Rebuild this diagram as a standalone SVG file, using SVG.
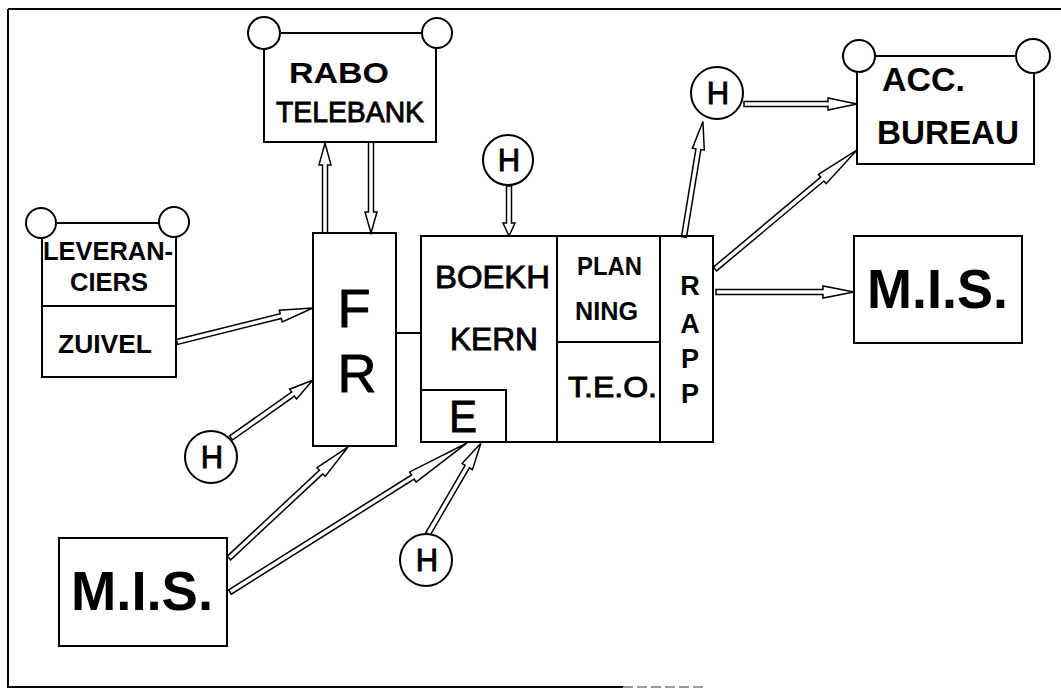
<svg xmlns="http://www.w3.org/2000/svg" width="1061" height="689" viewBox="0 0 1061 689">
<style>
.ln{fill:none;stroke:#000;stroke-width:2}
.cir{fill:#fff;stroke:#000;stroke-width:2}
.ar{fill:#fff;stroke:#000;stroke-width:1.5;stroke-linejoin:miter}
.t{font-family:"Liberation Sans",Arial,Helvetica,sans-serif;font-weight:bold;fill:#000}
.n{font-weight:normal;stroke:#000;stroke-width:0.9}
.m{text-anchor:middle}
</style>
<rect width="1061" height="689" fill="#fff"/>
<g id="frame">
<path class="ln" d="M8,9 H1061 M8,9 V687 H623"/>
<path d="M623,687 H705" stroke="#999" stroke-width="2" stroke-dasharray="10,4" fill="none"/>
</g>
<g id="connectors">
<path class="ln" d="M396,333 H421"/>
<path class="ar" transform="translate(325,233) rotate(-90)" d="M0,-2.5 H68 V-6 L90,0 L68,6 V2.5 H0 Z"/>
<path class="ar" transform="translate(371,142) rotate(90)" d="M0,-2.5 H70 V-6 L91,0 L70,6 V2.5 H0 Z"/>
<path class="ar" transform="translate(509,186) rotate(90)" d="M0,-2.5 H37 V-6 L50,0 L37,6 V2.5 H0 Z"/>
<path class="ar" transform="translate(177,342) rotate(-14.04)" d="M0,-2.5 H107 V-6 L140,0 L107,6 V2.5 H0 Z"/>
<path class="ar" transform="translate(231,438) rotate(-35.27)" d="M0,-2.5 H76 V-6 L100,0 L76,6 V2.5 H0 Z"/>
<path class="ar" transform="translate(229,558) rotate(-43.01)" d="M0,-2.5 H126 V-6 L163,0 L126,6 V2.5 H0 Z"/>
<path class="ar" transform="translate(230,592) rotate(-32.16)" d="M0,-2.5 H216 V-6 L280,0 L216,6 V2.5 H0 Z"/>
<path class="ar" transform="translate(428,534) rotate(-59.78)" d="M0,-2.5 H78 V-6 L105,0 L78,6 V2.5 H0 Z"/>
<path class="ar" transform="translate(684,237) rotate(-80.70)" d="M0,-2.5 H89 V-6 L117,0 L89,6 V2.5 H0 Z"/>
<path class="ar" transform="translate(744,104)" d="M0,-2.5 H84 V-6 L113,0 L84,6 V2.5 H0 Z"/>
<path class="ar" transform="translate(715,269) rotate(-39.97)" d="M0,-2.5 H140 V-6 L185,0 L140,6 V2.5 H0 Z"/>
<path class="ar" transform="translate(716,292)" d="M0,-2.5 H107 V-6 L138,0 L107,6 V2.5 H0 Z"/>
</g>
<g id="rabo">
<path class="ln" d="M264,33 H437 M264,33 V142 H436 V33"/>
<circle class="cir" cx="264" cy="33" r="16"/>
<circle class="cir" cx="437" cy="33" r="15"/>
<text class="t m" x="339" y="83" font-size="30" textLength="100" lengthAdjust="spacingAndGlyphs">RABO</text>
<text class="t n m" x="350" y="122" font-size="29" textLength="148" lengthAdjust="spacingAndGlyphs">TELEBANK</text>
</g>
<g id="leveranciers">
<path class="ln" d="M41,223 H174 M42,223 V377 H176 V223 M42,306 H176"/>
<circle class="cir" cx="41" cy="223" r="15"/>
<circle class="cir" cx="174" cy="222" r="15"/>
<text class="t" x="43" y="260" font-size="26" textLength="130" lengthAdjust="spacingAndGlyphs">LEVERAN-</text>
<text class="t m" x="109" y="291" font-size="26" textLength="78" lengthAdjust="spacingAndGlyphs">CIERS</text>
<text class="t m" x="105" y="353" font-size="25" textLength="94" lengthAdjust="spacingAndGlyphs">ZUIVEL</text>
</g>
<g id="fr">
<rect class="ln" x="313" y="233" width="83" height="213"/>
<text class="t n m" x="354" y="327" font-size="54">F</text>
<text class="t n m" x="357" y="392" font-size="54">R</text>
</g>
<g id="boekh">
<rect class="ln" x="421" y="236" width="292" height="206"/>
<path class="ln" d="M557,236 V442 M660,236 V442 M557,342 H660 M421,390 H506 V442"/>
<text class="t n" x="435" y="288" font-size="31" textLength="115" lengthAdjust="spacingAndGlyphs">BOEKH</text>
<text class="t n" x="450" y="350" font-size="31" textLength="88" lengthAdjust="spacingAndGlyphs">KERN</text>
<text class="t" x="577" y="275" font-size="25" textLength="65" lengthAdjust="spacingAndGlyphs">PLAN</text>
<text class="t" x="575" y="320" font-size="25" textLength="63" lengthAdjust="spacingAndGlyphs">NING</text>
<text class="t n" x="568" y="397" font-size="29" textLength="89" lengthAdjust="spacingAndGlyphs">T.E.O.</text>
<text class="t n m" x="463" y="432" font-size="45" textLength="28" lengthAdjust="spacingAndGlyphs">E</text>
<text class="t m" x="690" y="295" font-size="27">R</text>
<text class="t m" x="690" y="333" font-size="27">A</text>
<text class="t m" x="690" y="368" font-size="27">P</text>
<text class="t m" x="690" y="403" font-size="27">P</text>
</g>
<g id="acc">
<path class="ln" d="M859,56 H1033 M857,56 V164 H1034 V56"/>
<circle class="cir" cx="859" cy="56" r="16"/>
<circle class="cir" cx="1033" cy="56" r="17"/>
<text class="t" x="882" y="91" font-size="34" textLength="83" lengthAdjust="spacingAndGlyphs">ACC.</text>
<text class="t" x="877" y="144" font-size="34" textLength="142" lengthAdjust="spacingAndGlyphs">BUREAU</text>
</g>
<g id="mis-right">
<rect class="ln" x="854" y="236" width="168" height="107"/>
<text class="t" x="867" y="308" font-size="56" textLength="141" lengthAdjust="spacingAndGlyphs">M.I.S.</text>
</g>
<g id="mis-left">
<rect class="ln" x="59" y="538" width="168" height="108"/>
<text class="t" x="71" y="610" font-size="56" textLength="142" lengthAdjust="spacingAndGlyphs">M.I.S.</text>
</g>
<g id="h-top">
<circle class="cir" cx="508" cy="160" r="25"/>
<text class="t n m" x="509" y="171" font-size="31">H</text>
</g>
<g id="h-left">
<circle class="cir" cx="211" cy="457" r="26"/>
<text class="t n m" x="212" y="468" font-size="31">H</text>
</g>
<g id="h-bottom">
<circle class="cir" cx="426" cy="560" r="26"/>
<text class="t n m" x="427" y="571" font-size="31">H</text>
</g>
<g id="h-right">
<circle class="cir" cx="717" cy="93" r="26"/>
<text class="t n m" x="718" y="104" font-size="31">H</text>
</g>
</svg>
